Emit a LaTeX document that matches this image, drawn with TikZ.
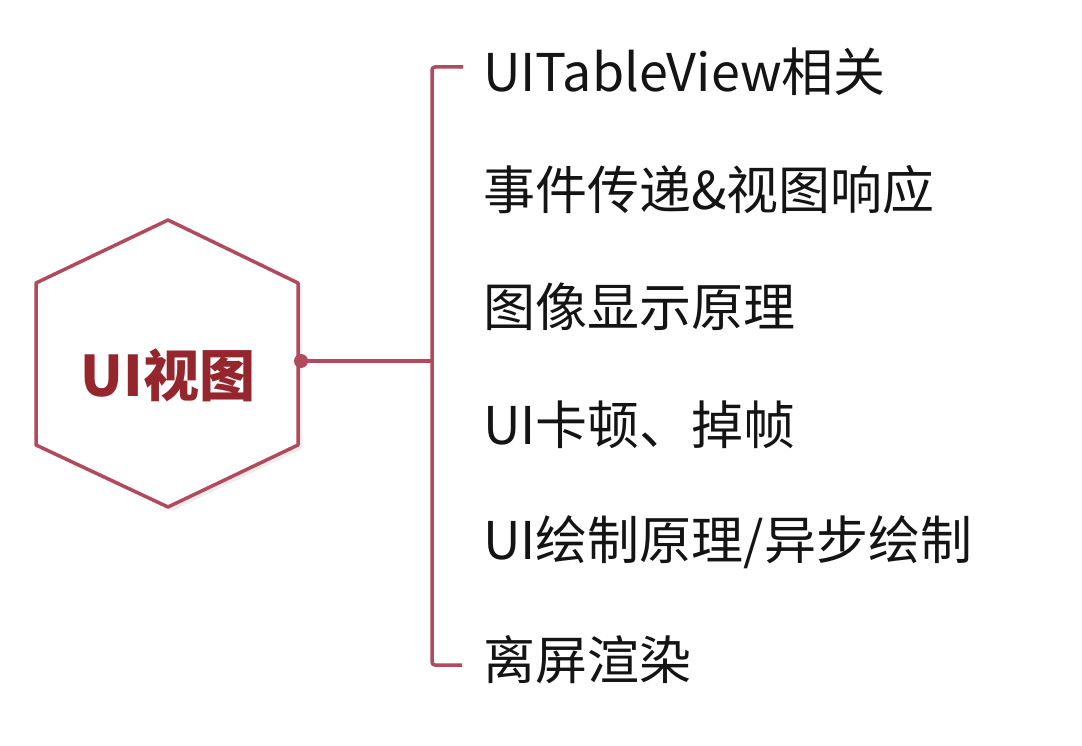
\documentclass[tikz,border=0pt]{standalone}
\usepackage{fontspec}
\setmainfont{Noto Sans CJK SC}
\usepackage{tikz}
\definecolor{Hexr}{RGB}{176,74,92}
\definecolor{Hext}{RGB}{150,38,46}
\usetikzlibrary{calc}

\begin{document}
\begin{tikzpicture}[x=1pt,y=-1pt,
    branch/.style={draw=Hexr,line width=3.5pt},
    topic/.style={anchor=west,inner sep=0pt,text=black!92,
                  font=\fontsize{52}{52}\selectfont}]
    \useasboundingbox (0,0) rectangle (1082,746);
    % hexagon
    \fill[black!7] (172,224) -- (302,287) -- (302,449) -- (172,511)
                   -- (40,449) -- (40,287) -- cycle;
    \draw[branch,fill=white,line join=round] (168,220) -- (298,283) -- (298,445)
                   -- (168,507) -- (36,445) -- (36,283) -- cycle;
    \node[inner sep=0pt,text=Hext,font=\fontsize{56}{56}\selectfont\bfseries]
          (hub) at (168,375) {UI视图};
    % connectors
    \coordinate (hubr) at (301,361);
    \coordinate (fork) at (432,361);
    \coordinate (brtop) at (463,67);
    \coordinate (brtl) at (432,67);
    \coordinate (brbl) at (432,665);
    \coordinate (brbot) at (462,665);
    \draw[branch] (hubr) -- (fork);
    \fill[Hexr] (hubr) circle (7);
    \draw[branch,rounded corners=3] (brtop) -- (brtl) -- (brbl) -- (brbot);
    % topics
    \foreach \txt [count=\i] in {UITableView相关, 事件传递\&视图响应, 图像显示原理,
                                 UI卡顿、掉帧, UI绘制原理/异步绘制, 离屏渲染}
        \node[topic] (topic\i) at (483,{72+117.5*(\i-1)}) {\txt};
\end{tikzpicture}
\end{document}
